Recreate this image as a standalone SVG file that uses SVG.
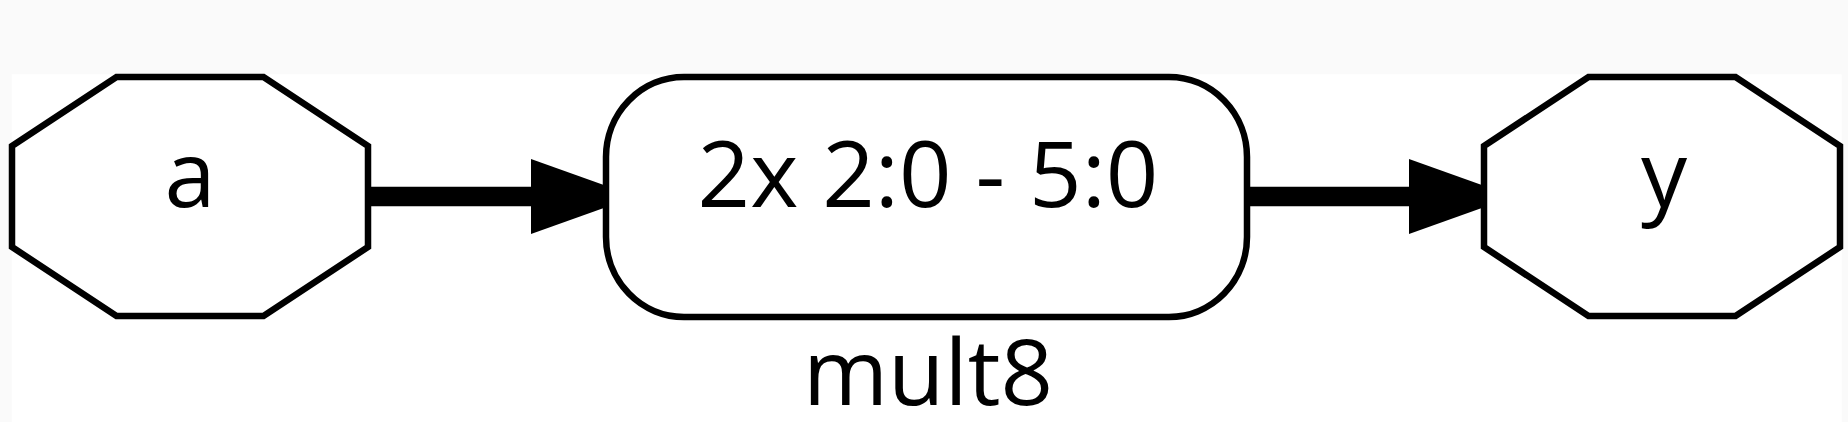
<svg xmlns="http://www.w3.org/2000/svg" width="1848" height="422" viewBox="0 0 1848 422">
<style>
.bg{fill:#fafafa}
.canvas{fill:#ffffff}
.node{fill:#ffffff;stroke:#000000;stroke-width:6.5;stroke-linejoin:miter}
.lbl{font-family:"Open Sans","Noto Sans","DejaVu Sans",sans-serif;font-size:92px;fill:#000000;text-anchor:middle}
.edge{stroke:#000000;stroke-width:19.5;fill:none}
.head{fill:#000000;stroke:none}
</style>
<rect class="bg" x="0" y="0" width="1848" height="422"/>
<rect class="canvas" x="11.7" y="74.3" width="1830" height="348"/>
<g id="connectors">
<g id="edge-a-mult8">
<line class="edge" x1="368" y1="196.5" x2="532" y2="196.5"/>
<polygon class="head" points="531,159 636,196.5 531,234"/>
</g>
<g id="edge-mult8-y">
<line class="edge" x1="1247" y1="196.5" x2="1410" y2="196.5"/>
<polygon class="head" points="1409,159 1514,196.5 1409,234"/>
</g>
</g>
<g id="node-a">
<polygon class="node" points="12,146 116.5,77 263.5,77 368,146 368,247 263.5,316 116.5,316 12,247"/>
<text class="lbl" x="190" y="207">a</text>
</g>
<g id="node-mult8">
<rect class="node" x="606" y="77" width="641" height="240" rx="78" ry="80"/>
<text class="lbl" x="928" y="207">2x 2:0 - 5:0</text>
<text class="lbl" x="928" y="405">mult8</text>
</g>
<g id="node-y">
<polygon class="node" points="1484,146 1588.5,77 1735.5,77 1840,146 1840,247 1735.5,316 1588.5,316 1484,247"/>
<text class="lbl" x="1664" y="207">y</text>
</g>
</svg>
